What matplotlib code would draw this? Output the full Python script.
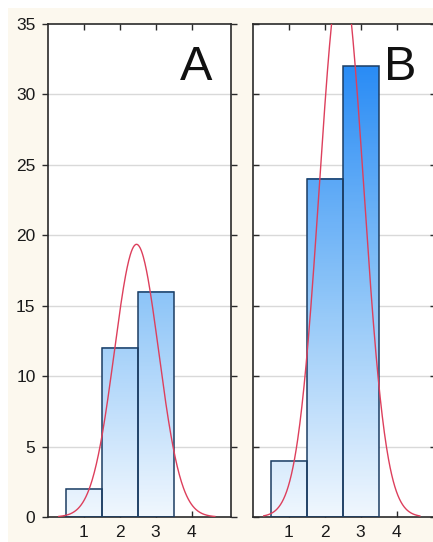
import numpy as np
import matplotlib
matplotlib.use("Agg")
import matplotlib.pyplot as plt
from matplotlib.colors import LinearSegmentedColormap, Normalize
from matplotlib.patches import Rectangle

# class midpoints and frequencies for both samples
classes = [1, 2, 3]
counts_a = [2, 12, 16]
counts_b = [4, 24, 32]
panel_labels = ["A", "B"]
y_ticks = [0, 5, 10, 15, 20, 25, 30, 35]
x_ticks = [1, 2, 3, 4]

plt.rcParams["font.family"] = ["Liberation Sans", "DejaVu Sans"]

W, H = 433, 542
fig = plt.figure(figsize=(W / 100, H / 100), dpi=100, facecolor="white")
fig.patches.append(Rectangle((8 / W, 0), 1, 1 - 8 / H, transform=fig.transFigure,
                             facecolor="#fcf8ee", edgecolor="none", zorder=-10))

bar_cmap = LinearSegmentedColormap.from_list(
    "bars", [(0.0, "#f0f7fe"), (0.5, "#8cc4f8"), (1.0, "#2a8cf5")])
bar_norm = Normalize(0, 32)


def draw_panel(ax, counts, label, show_ylabels):
    ax.set_facecolor("white")
    centers = np.array(classes, dtype=float)
    freq = np.array(counts, dtype=float)

    bars = ax.bar(centers, freq, width=1.0, facecolor="none",
                  edgecolor="#1c3d63", linewidth=1.1, zorder=3)
    # vertical gradient fill inside each bar
    for b in bars:
        x0, w, h = b.get_x(), b.get_width(), b.get_height()
        grad = np.linspace(0, h, 200).reshape(-1, 1)
        ax.imshow(grad, extent=[x0, x0 + w, 0, h], origin="lower", aspect="auto",
                  cmap=bar_cmap, norm=bar_norm, zorder=2)

    # fitted normal curve from the grouped data
    n = freq.sum()
    mu = (centers * freq).sum() / n
    sd = np.sqrt(((centers - mu) ** 2 * freq).sum() / n)
    xs = np.linspace(0.3, 4.65, 300)
    ys = n * 1.0 / (sd * np.sqrt(2 * np.pi)) * np.exp(-0.5 * ((xs - mu) / sd) ** 2)
    ax.plot(xs, ys, color="#dd3f5c", linewidth=1.0, zorder=4)

    ax.set_xlim(0, 5.1)
    ax.set_ylim(0, 35)
    ax.set_yticks(y_ticks)
    ax.set_xticks(x_ticks)
    for y in y_ticks[1:-1]:
        ax.axhline(y, color="#d9d9d9", linewidth=1.0, zorder=1)

    for s in ax.spines.values():
        s.set_color("#2a2a2a")
        s.set_linewidth(1.2)

    ax.tick_params(axis="x", direction="in", top=True, length=4, width=1,
                   labelsize=12.5, pad=6, colors="#2a2a2a", labelcolor="#1a1a1a")
    if show_ylabels:
        ax.tick_params(axis="y", direction="out", length=4, width=1,
                       labelsize=12.5, pad=5, colors="#2a2a2a", labelcolor="#1a1a1a")
    else:
        ax.tick_params(axis="y", direction="in", length=4, width=1,
                       labelleft=False, colors="#2a2a2a")
    ax.tick_params(axis="y", which="both", right=True)

    ax.text(0.895, 0.886, label, transform=ax.transAxes, ha="right", va="baseline",
            fontsize=35, color="#111111", zorder=5)


left_a, left_b = 48 / W, 253 / W
width, height = 183 / W, 493 / H
bottom = 1 - 517 / H
ax_a = fig.add_axes([left_a, bottom, width, height])
ax_b = fig.add_axes([left_b, bottom, width, height])

draw_panel(ax_a, counts_a, panel_labels[0], True)
draw_panel(ax_b, counts_b, panel_labels[1], False)

fig.savefig("out.png", dpi=100, facecolor=fig.get_facecolor())
